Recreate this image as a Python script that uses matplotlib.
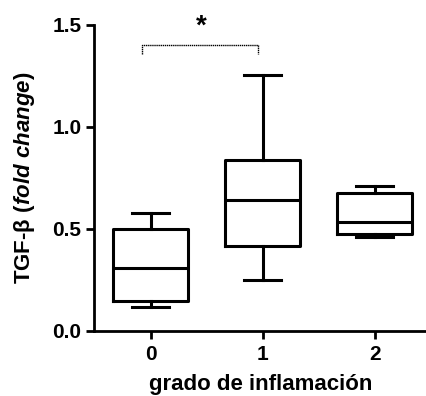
import matplotlib
matplotlib.use("Agg")
import matplotlib.pyplot as plt

plt.rcParams['font.family'] = ['Liberation Sans', 'DejaVu Sans']
plt.rcParams['font.weight'] = 'bold'
plt.rcParams['mathtext.fontset'] = 'custom'
plt.rcParams['mathtext.it'] = 'Liberation Sans:italic:bold'
plt.rcParams['mathtext.rm'] = 'Liberation Sans:bold'

# box statistics
groups = ["0", "1", "2"]
whislo = [0.12, 0.25, 0.46]
q1 = [0.147, 0.417, 0.474]
med = [0.31, 0.642, 0.533]
q3 = [0.50, 0.838, 0.675]
whishi = [0.58, 1.255, 0.711]

bracket_y = 1.40
star_label = "*"

stats = []
for i in range(len(groups)):
    stats.append(dict(label=groups[i], whislo=whislo[i], q1=q1[i], med=med[i],
                      q3=q3[i], whishi=whishi[i], fliers=[]))

fig = plt.figure(figsize=(4.27, 3.96), dpi=100)
ax = fig.add_axes([94/427, 65/396, 333/427, 306/396])

lw = 2.2
ax.bxp(stats, positions=range(len(groups)), widths=0.67, capwidths=0.33,
       showfliers=False,
       boxprops=dict(color='black', linewidth=lw),
       medianprops=dict(color='black', linewidth=lw),
       whiskerprops=dict(color='black', linewidth=lw),
       capprops=dict(color='black', linewidth=lw))

ax.set_xlim(-0.506, 2.467)
ax.set_ylim(0, 1.5)
ax.set_yticks([0.0, 0.5, 1.0, 1.5])
ax.set_yticklabels(["0.0", "0.5", "1.0", "1.5"])
ax.set_xticks(range(len(groups)))
ax.set_xticklabels(groups)

for s in ['top', 'right']:
    ax.spines[s].set_visible(False)
for s in ['left', 'bottom']:
    ax.spines[s].set_linewidth(2.0)
ax.tick_params(axis='both', width=2.0, length=6, labelsize=15, direction='out')
ax.tick_params(axis='x', pad=4)
ax.tick_params(axis='y', pad=3)
for lab in ax.get_xticklabels() + ax.get_yticklabels():
    lab.set_fontweight('bold')

ax.set_xlabel("grado de inflamación", fontsize=16, fontweight='bold', labelpad=7.5)
ax.set_ylabel(r"TGF-β ($\mathit{fold\ change}$)", fontsize=16, fontweight='bold', labelpad=11)

# significance bracket
ax.plot([-0.08, -0.08, 0.96, 0.96], [bracket_y - 0.04, bracket_y, bracket_y, bracket_y - 0.04],
        color='black', linewidth=1.0, linestyle=(0, (1, 0.5)), clip_on=False)
ax.text(0.45, 1.49, star_label, ha='center', va='center', fontsize=20, fontweight='bold')

fig.savefig("out.png", dpi=100)
